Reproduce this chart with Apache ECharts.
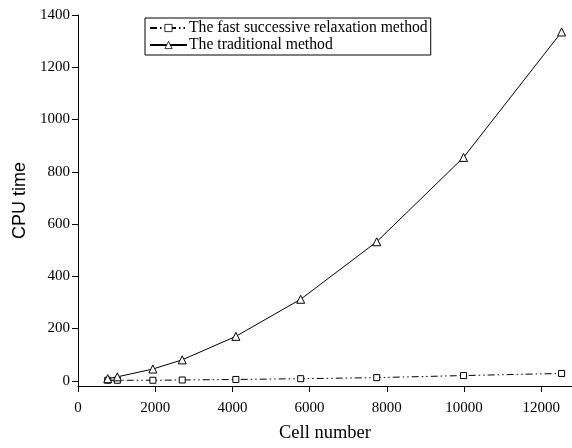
<!DOCTYPE html>
<html><head><meta charset="utf-8">
<script src="https://cdn.jsdelivr.net/npm/echarts@6/dist/echarts.min.js"></script>
<style>html,body{margin:0;padding:0;background:#fff}#c{width:572px;height:448px}</style>
</head><body><div id="c"></div>
<script>
const cellNumbers = [770, 1020, 1940, 2700, 4090, 5770, 7740, 9990, 12530];
const fastTimes = [2, 2, 2, 3, 5, 8, 12, 20, 28];
const traditionalTimes = [8, 15, 45, 80, 170, 312, 532, 855, 1335];
const xTicks = [0, 2000, 4000, 6000, 8000, 10000, 12000];
const yTicks = [0, 200, 400, 600, 800, 1000, 1200, 1400];
const seriesNames = ['The fast successive relaxation method', 'The traditional method'];

const serif = 'Liberation Serif';
const chart = echarts.init(document.getElementById('c'), null, {renderer: 'canvas'});
chart.setOption({
  animation: false,
  backgroundColor: '#fff',
  grid: {left: 78, right: 0, top: 15, bottom: 59, containLabel: false},
  legend: {
    orient: 'vertical', left: 145, top: 18,
    borderColor: '#000', borderWidth: 1, padding: [2, 3, 2, 4],
    itemWidth: 37, itemHeight: 9, itemGap: 1,
    itemStyle: {borderWidth: 0.8},
    textStyle: {fontFamily: serif, fontSize: 15.7, color: '#000', padding: [0, 0, 0, -3]},
    data: seriesNames
  },
  xAxis: {
    type: 'value', min: 0, max: 12800,
    name: 'Cell number', nameLocation: 'middle', nameGap: 38,
    nameTextStyle: {fontFamily: serif, fontSize: 18.5, color: '#000'},
    axisLine: {onZero: false, lineStyle: {color: '#000', width: 1}},
    axisTick: {show: true, inside: false, length: 6, customValues: xTicks, lineStyle: {color: '#000'}},
    axisLabel: {customValues: xTicks, formatter: v => String(v), fontFamily: serif, fontSize: 15, color: '#000', margin: 15},
    splitLine: {show: false}
  },
  yAxis: {
    type: 'value', min: -20, max: 1400,
    name: 'CPU time', nameLocation: 'middle', nameGap: 47,
    nameTextStyle: {fontFamily: 'Liberation Sans', fontSize: 18, color: '#000'},
    axisLine: {show: true, onZero: false, lineStyle: {color: '#000', width: 1}},
    axisTick: {show: true, inside: false, length: 6, customValues: yTicks, lineStyle: {color: '#000'}},
    axisLabel: {customValues: yTicks, formatter: v => String(v), fontFamily: serif, fontSize: 15, color: '#000', margin: 8},
    splitLine: {show: false}
  },
  series: [
    {
      name: seriesNames[0], type: 'line',
      data: cellNumbers.map((x, i) => [x, fastTimes[i]]),
      symbol: 'rect', symbolSize: 6, showAllSymbol: true,
      itemStyle: {color: '#fff', borderColor: '#000', borderWidth: 1},
      lineStyle: {color: '#000', width: 1, type: [7, 3, 1.5, 3, 1.5, 3]}
    },
    {
      name: seriesNames[1], type: 'line',
      data: cellNumbers.map((x, i) => [x, traditionalTimes[i]]),
      symbol: 'triangle', symbolSize: 8, showAllSymbol: true,
      itemStyle: {color: '#fff', borderColor: '#000', borderWidth: 1},
      lineStyle: {color: '#000', width: 1, type: 'solid'}
    }
  ]
});
</script></body></html>
